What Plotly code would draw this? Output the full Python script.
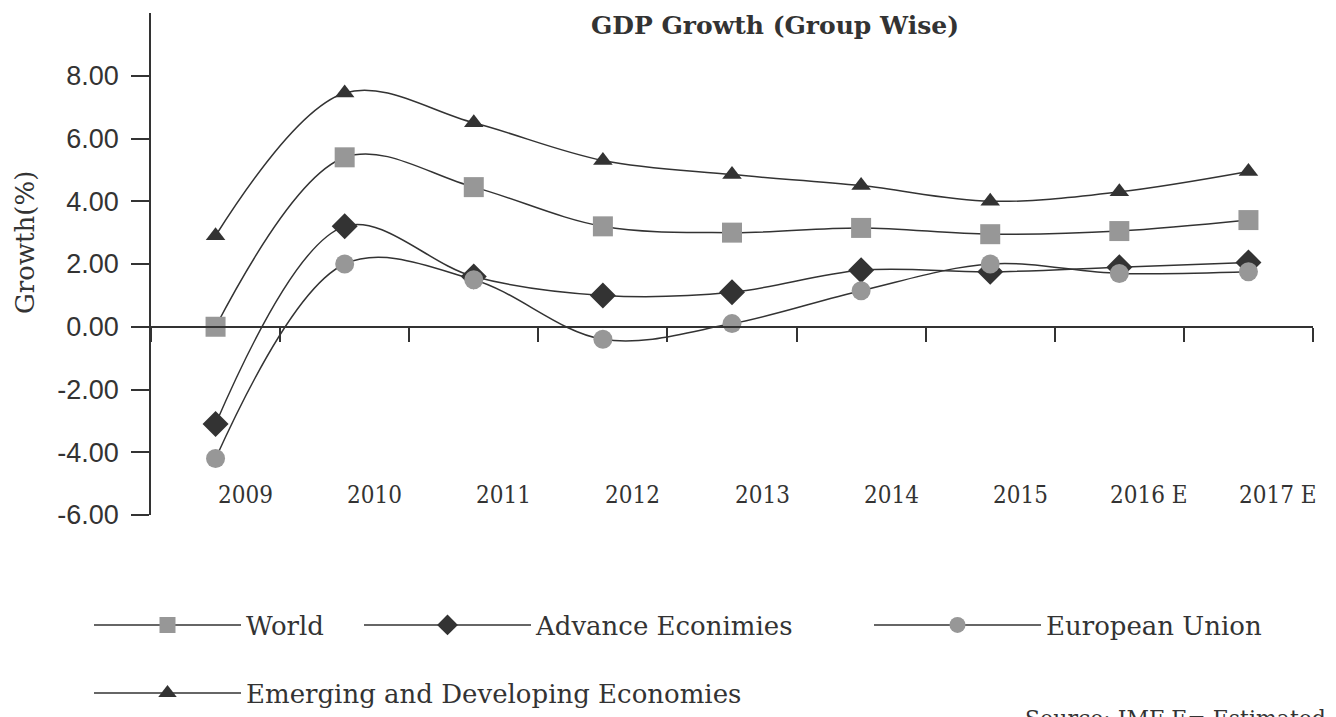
import plotly.graph_objects as go

categories = ["2009", "2010", "2011", "2012", "2013", "2014", "2015", "2016 E", "2017 E"]
world = [0.0, 5.4, 4.45, 3.2, 3.0, 3.15, 2.95, 3.05, 3.4]
advanced = [-3.1, 3.2, 1.6, 1.0, 1.1, 1.8, 1.75, 1.9, 2.05]
eu = [-4.2, 2.0, 1.5, -0.4, 0.1, 1.15, 2.0, 1.7, 1.75]
emerging = [2.9, 7.45, 6.5, 5.3, 4.85, 4.5, 4.0, 4.3, 4.95]
y_ticks = [-6, -4, -2, 0, 2, 4, 6, 8]

DARK = "#333333"
GRAY = "#979797"
SERIF = "DejaVu Serif"

# the page body adds an 8px offset; design in screenshot pixels and shift
OFF = 8
W, H = 1336 - OFF, 717 - OFF
L, T = 151 - OFF, 13 - OFF
R = W - (1313 - OFF)
B = H - (515 - OFF)
PW = W - L - R
PH = H - T - B


def px_x(px):
    return (px - OFF - L) / PW


def px_y(py):
    return (H - B - (py - OFF)) / PH


fig = go.Figure()

series = [
    ("World", world, "square", GRAY, 20, "legend"),
    ("Advance Econimies", advanced, "diamond", DARK, 20, "legend2"),
    ("European Union", eu, "circle", GRAY, 19, "legend3"),
    ("Emerging and Developing Economies", emerging, "triangle-up", DARK, 17, "legend4"),
]
for name, vals, sym, col, size, leg in series:
    fig.add_trace(go.Scatter(
        x=categories, y=vals, name=name, mode="lines+markers",
        line=dict(color=DARK, width=1.5, shape="spline"),
        marker=dict(symbol=sym, color=col, size=size, line=dict(width=0)),
        legend=leg,
    ))

# category labels offset below the plot
for i, c in enumerate(categories):
    fig.add_annotation(x=i, y=-5.35, xref="x", yref="y", text=c, showarrow=False,
                       xshift=30, font=dict(family="DejaVu Serif Condensed, DejaVu Serif", size=24, color=DARK))

# y-axis title
fig.add_annotation(x=px_x(25), y=px_y(243), xref="paper", yref="paper", text="Growth(%)",
                   textangle=-90, showarrow=False, xanchor="center", yanchor="middle",
                   font=dict(family=SERIF, size=26, color=DARK))

# source
fig.add_annotation(x=px_x(1023), y=px_y(704), xref="paper", yref="paper", text="Source: IMF E= Estimated",
                   showarrow=False, xanchor="left", yanchor="top",
                   font=dict(family=SERIF, size=22, color=DARK))

LEGFONT = dict(family=SERIF, size=26, color=DARK)


def leg(xpx, ypx, w):
    return dict(orientation="h", x=px_x(xpx), y=px_y(ypx), xanchor="left", yanchor="middle",
                itemwidth=w, font=LEGFONT, bgcolor="rgba(0,0,0,0)")


fig.update_layout(
    width=W, height=H,
    margin=dict(l=L, r=R, t=T, b=B, autoexpand=False),
    paper_bgcolor="white", plot_bgcolor="white",
    title=dict(text="GDP Growth (Group Wise)", x=px_x(775), xref="paper", xanchor="center",
               y=1 - (25 - OFF) / H, yref="container", yanchor="middle",
               font=dict(family=SERIF, size=25, color=DARK, weight="bold")),
    showlegend=True,
    legend=leg(89, 625, 147),
    legend2=leg(359, 625, 167),
    legend3=leg(869, 625, 167),
    legend4=leg(89, 693, 147),
    xaxis=dict(type="category", range=[-0.5, 8.5], anchor="free", position=6 / 16,
               showline=True, linecolor=DARK, linewidth=1.5, ticks="outside",
               tickson="boundaries", ticklen=14, tickcolor=DARK, tickwidth=1.5,
               showticklabels=False, showgrid=False, zeroline=False),
    yaxis=dict(range=[-6, 10], tickvals=y_ticks, ticktext=["%.2f" % v for v in y_ticks],
               showline=True, linecolor=DARK, linewidth=1.5, ticks="outside",
               ticklen=18, tickcolor=DARK, tickwidth=1.5, ticklabelstandoff=7,
               tickfont=dict(family="Liberation Sans, Arial", size=27, color=DARK),
               showgrid=False, zeroline=False),
)

fig.write_html("out.html")
